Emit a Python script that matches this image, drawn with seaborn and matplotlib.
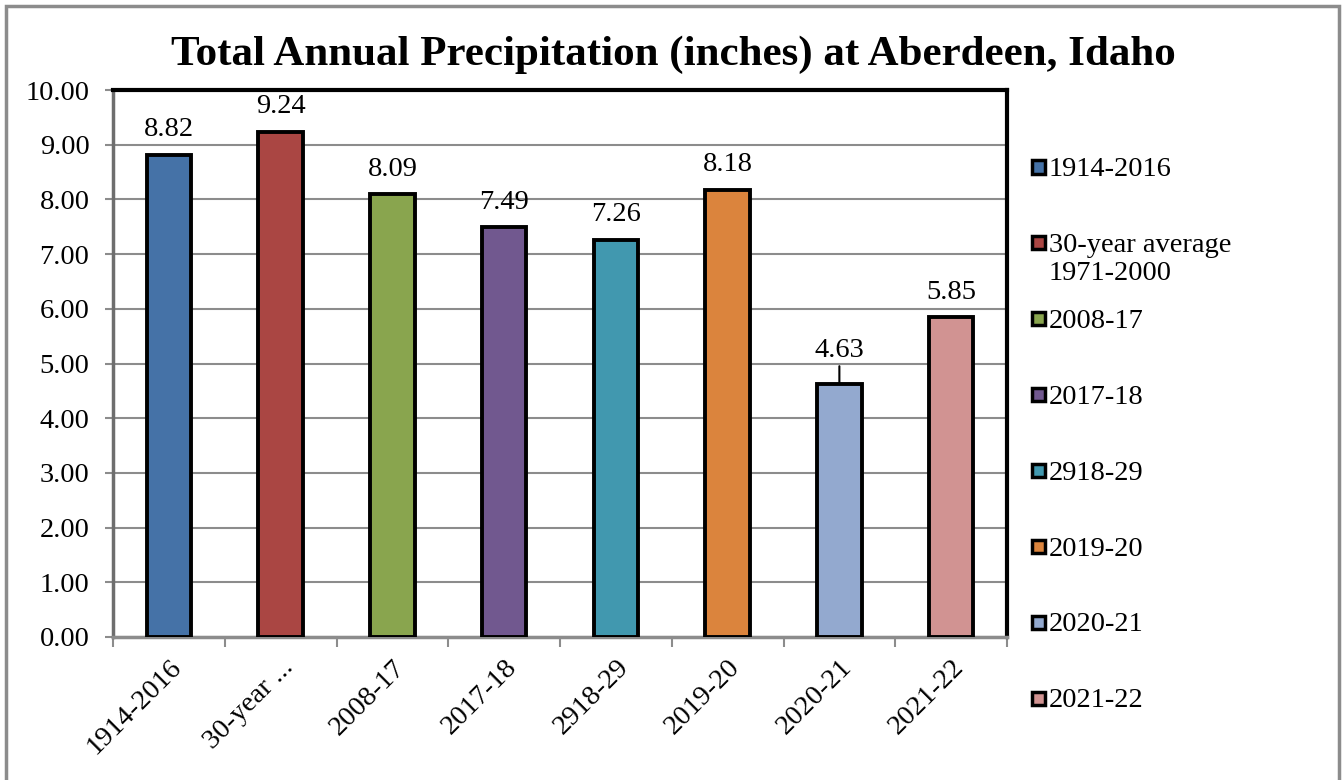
import matplotlib

matplotlib.use('Agg')
import matplotlib.pyplot as plt
import matplotlib.patches as mpatches
import pandas as pd
import seaborn as sns

# --- chart data ---
categories = ['1914-2016', '30-year ...', '2008-17', '2017-18', '2918-29',
              '2019-20', '2020-21', '2021-22']
legend_labels = ['1914-2016', '30-year average\n1971-2000', '2008-17', '2017-18',
                 '2918-29', '2019-20', '2020-21', '2021-22']
precip = [8.82, 9.24, 8.09, 7.49, 7.26, 8.18, 4.63, 5.85]
bar_colors = ['#4572A7', '#AA4643', '#89A54E', '#71588F', '#4198AF',
              '#DB843D', '#93A9CF', '#D19392']
y_ticks = [0, 1, 2, 3, 4, 5, 6, 7, 8, 9, 10]

W, H = 1342, 780
FS = 20.5

sns.set_style('white')
plt.rcParams['font.family'] = ['Liberation Serif', 'DejaVu Serif']
plt.rcParams['text.color'] = 'black'

df = pd.DataFrame({'period': categories, 'inches': precip})

fig = plt.figure(figsize=(W / 100, H / 100), dpi=100)
ax = fig.add_axes([113 / W, 1 - 637 / H, (1007 - 113) / W, (637 - 90) / H])

sns.barplot(data=df, x='period', y='inches', hue='period', palette=bar_colors,
            saturation=1, dodge=False, width=0.4, edgecolor='black', linewidth=2.8,
            legend=False, ax=ax, zorder=3)

ax.set_ylim(0, 10)
ax.set_xlim(-0.5, len(categories) - 0.5)
ax.set_yticks(y_ticks)
ax.set_yticklabels([f'{v:.2f}' for v in y_ticks], fontsize=FS)
ax.yaxis.grid(True, color='#8c8c8c', linewidth=1.5, zorder=0)
ax.set_axisbelow(True)
ax.set_xlabel('')
ax.set_ylabel('')

# x ticks at category boundaries, labels at centres
ax.set_xticks([i - 0.5 for i in range(len(categories) + 1)])
ax.set_xticklabels([])
ax.set_xticks(range(len(categories)), minor=True)
ax.set_xticklabels(categories, minor=True, rotation=45, ha='right',
                   rotation_mode='anchor', fontsize=FS)
ax.tick_params(axis='x', which='major', direction='out', length=7, width=1.5,
               color='#8c8c8c', bottom=True)
ax.tick_params(axis='x', which='minor', length=0, pad=13, labelcolor='black')
ax.tick_params(axis='y', direction='out', length=6, width=1.5, color='#8c8c8c',
               left=True, pad=11, labelcolor='black')

for side in ['top', 'right']:
    ax.spines[side].set_color('black')
    ax.spines[side].set_linewidth(3)
ax.spines['left'].set_color('#6e6e6e')
ax.spines['left'].set_linewidth(2.5)
ax.spines['bottom'].set_color('#8c8c8c')
ax.spines['bottom'].set_linewidth(2.5)

# value labels
for i, v in enumerate(precip):
    if v == 4.63:
        ax.annotate(f'{v:.2f}', xy=(i, v), xytext=(0, 15), textcoords='offset points',
                    ha='center', va='bottom', fontsize=FS,
                    arrowprops=dict(arrowstyle='-', color='black', lw=1.5,
                                    shrinkA=0, shrinkB=0))
    else:
        ax.annotate(f'{v:.2f}', xy=(i, v), xytext=(0, 9), textcoords='offset points',
                    ha='center', va='bottom', fontsize=FS)

ax.set_title('Total Annual Precipitation (inches) at Aberdeen, Idaho',
             fontsize=31, fontweight='bold', pad=18, color='black',
             x=(673 - 113) / (1007 - 113))

# legend, Excel style: evenly spaced entries aligned on their first line
leg_top, leg_step = 167, 75.9
for i, (lab, c) in enumerate(zip(legend_labels, bar_colors)):
    yc = leg_top + i * leg_step
    fig.add_artist(mpatches.Rectangle((1032 / W, 1 - (yc + 6.5) / H), 13 / W, 13 / H,
                                      transform=fig.transFigure, facecolor=c,
                                      edgecolor='black', linewidth=2.5))
    fig.text(1049 / W, 1 - (yc - 10) / H, lab, fontsize=FS, va='top', ha='left',
             linespacing=1.15)

# outer chart border
fig.add_artist(mpatches.Rectangle((6 / W, -0.05), (1339 - 6) / W, 1.05 - 6 / H,
                                  transform=fig.transFigure, fill=False,
                                  edgecolor='#8c8c8c', linewidth=2.5))

fig.savefig('out.png', dpi=100)
